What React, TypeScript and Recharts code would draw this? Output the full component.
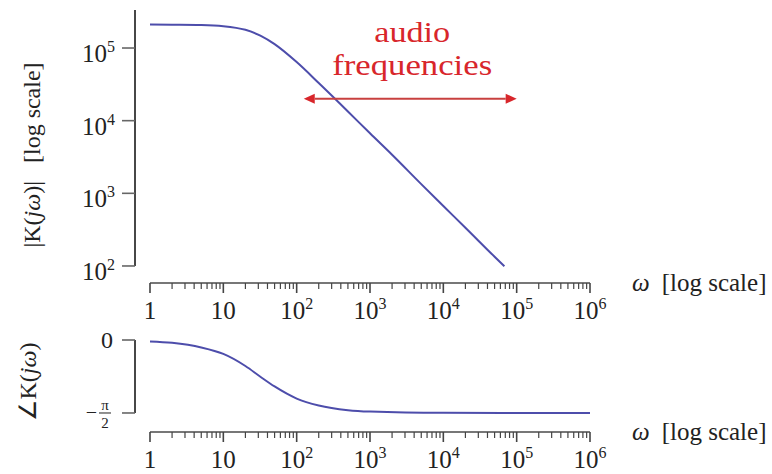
import React from 'react';
import { LineChart, Line, XAxis, YAxis, ReferenceLine, Label } from 'recharts';

// frequency response (rad/s)
const omega = [1, 2, 5, 10, 20, 32, 50, 100, 200, 500, 1000, 2000, 5000, 10000, 20000, 50000, 68000];
const magnitude = [210000, 209000, 207000, 200000, 178000, 148000, 113000, 64000, 33000, 13400, 6700, 3400, 1340, 670, 336, 134, 99];

const phaseOmega = [1, 2, 5, 10, 20, 32, 50, 100, 200, 500, 1000, 10000, 100000, 1000000];
const phase = [-0.03, -0.06, -0.16, -0.3, -0.56, -0.79, -1.0, -1.26, -1.41, -1.51, -1.54, -1.568, -1.57, -1.5708];

const decades = [1, 10, 100, 1000, 10000, 100000, 1000000];
const minorSteps = [2, 3, 4, 5, 6, 7, 8, 9];
const magTicks = [100, 1000, 10000, 100000];
const phaseTicks = [0, -1.5708];

const audioBand = [125, 100000];
const audioLevel = 20000;
const annotation = ['audio', 'frequencies'];

const BLUE = '#4d4dab';
const RED = '#d8262b';
const FONT = '"Liberation Serif", "Times New Roman", serif';

const X_DOMAIN = [0.6245, 1000000];
const MAG_DOMAIN = [58.3, 333600];
const PHASE_DOMAIN = [-1.98, 0];

const xTicks = decades.flatMap((d, i) =>
  i < decades.length - 1 ? [d, ...minorSteps.map(m => m * d)] : [d]
);

const magData = omega.map((w, i) => ({ w, mag: magnitude[i] }));
const phaseData = phaseOmega.map((w, i) => ({ w, ph: phase[i] }));

function XTick({ x, y, payload }: any) {
  const v = payload.value;
  const exp = Math.round(Math.log10(v));
  const major = Math.abs(v - Math.pow(10, exp)) < 1e-6 * v;
  return (
    <g>
      <line x1={x} y1={y} x2={x} y2={y + (major ? 10 : 6)} stroke="#444" strokeWidth={major ? 1.6 : 1.2} />
      {major && (
        <text x={x} y={y + 36} textAnchor="middle" fontSize={25} fill="#222" fontFamily={FONT}>
          {exp === 0 ? '1' : exp === 1 ? '10' : <>10<tspan dy={-10} fontSize={16}>{exp}</tspan></>}
        </text>
      )}
    </g>
  );
}

function MagTick({ x, y, payload }: any) {
  const exp = Math.round(Math.log10(payload.value));
  return (
    <g>
      <line x1={x - 13} y1={y} x2={x} y2={y} stroke="#666" strokeWidth={1.6} />
      <text x={x - 20} y={y + 14} textAnchor="end" fontSize={25} fill="#222" fontFamily={FONT}>
        10<tspan dy={-10} fontSize={16}>{exp}</tspan>
      </text>
    </g>
  );
}

function PhaseTick({ x, y, payload }: any) {
  const zero = payload.value === 0;
  return (
    <g fill="#222" fontFamily={FONT}>
      <line x1={x - 13} y1={y} x2={x} y2={y} stroke="#666" strokeWidth={1.6} />
      {zero ? (
        <text x={x - 22} y={y + 8} textAnchor="end" fontSize={24}>0</text>
      ) : (
        <g>
          <text x={x - 38} y={y + 6} textAnchor="end" fontSize={20}>−</text>
          <text x={x - 30} y={y - 3} textAnchor="middle" fontSize={15}>π</text>
          <line x1={x - 36} y1={y} x2={x - 24} y2={y} stroke="#222" strokeWidth={1} />
          <text x={x - 30} y={y + 15} textAnchor="middle" fontSize={15}>2</text>
        </g>
      )}
    </g>
  );
}

function AudioArrow(props: any) {
  const { x1, y1, x2 } = props;
  const h = 11, w = 5;
  const mid = (x1 + x2) / 2 + 2;
  return (
    <g>
      <line x1={x1 + h} y1={y1} x2={x2 - h} y2={y1} stroke="#c8403f" strokeWidth={2} />
      <polygon points={`${x1},${y1} ${x1 + h},${y1 - w} ${x1 + h},${y1 + w}`} fill={RED} />
      <polygon points={`${x2},${y1} ${x2 - h},${y1 - w} ${x2 - h},${y1 + w}`} fill={RED} />
      <text x={mid} y={y1 - 57} textAnchor="middle" fontSize={30} fill={RED} fontFamily={FONT}
        textLength={76} lengthAdjust="spacingAndGlyphs">{annotation[0]}</text>
      <text x={mid} y={y1 - 24} textAnchor="middle" fontSize={30} fill={RED} fontFamily={FONT}
        textLength={160} lengthAdjust="spacingAndGlyphs">{annotation[1]}</text>
    </g>
  );
}

function OmegaName({ y }: { y: number }) {
  return (
    <text x={632} y={y} fontSize={25} fill="#222" fontFamily={FONT}>
      <tspan fontStyle="italic">ω</tspan>
      <tspan dx={12}>[log scale]</tspan>
    </text>
  );
}

export default function App() {
  return (
    <div style={{ position: 'absolute', left: 0, top: 0, width: 772, height: 474, background: '#fff', fontFamily: FONT }}>
      <div style={{ position: 'absolute', left: 0, top: 0 }}>
        <LineChart width={772} height={326} data={magData} margin={{ top: 10, right: 182, bottom: 0, left: 0 }}>
          <XAxis dataKey="w" type="number" scale="log" domain={X_DOMAIN} allowDataOverflow ticks={xTicks}
            interval={0} axisLine={false} tickLine={false} tickSize={0} tickMargin={0} height={43} tick={XTick}>
            <Label content={() => <OmegaName y={291} />} />
          </XAxis>
          <YAxis type="number" scale="log" domain={MAG_DOMAIN} allowDataOverflow ticks={magTicks}
            interval={0} axisLine={false} tickLine={false} tickSize={0} tickMargin={0} width={135} tick={MagTick}>
            <Label content={() => (
              <text transform="translate(40,155) rotate(-90)" textAnchor="middle" fontSize={24} fill="#222" fontFamily={FONT}>
                |K(<tspan fontStyle="italic">jω</tspan>)|<tspan dx={18}>[log scale]</tspan>
              </text>
            )} />
          </YAxis>
          <ReferenceLine segment={[{ x: X_DOMAIN[0], y: 100 }, { x: X_DOMAIN[0], y: MAG_DOMAIN[1] }]}
            stroke="#333" strokeWidth={1.8} ifOverflow="visible" />
          <ReferenceLine segment={[{ x: 1, y: MAG_DOMAIN[0] }, { x: 1000000, y: MAG_DOMAIN[0] }]}
            stroke="#777" strokeWidth={1.8} ifOverflow="visible" />
          <Line type="monotone" dataKey="mag" stroke={BLUE} strokeWidth={2} dot={false} isAnimationActive={false} />
          <ReferenceLine segment={[{ x: audioBand[0], y: audioLevel }, { x: audioBand[1], y: audioLevel }]}
            ifOverflow="visible" shape={AudioArrow} />
        </LineChart>
      </div>
      <div style={{ position: 'absolute', left: 0, top: 326 }}>
        <LineChart width={772} height={148} data={phaseData} margin={{ top: 14, right: 182, bottom: 0, left: 0 }}>
          <XAxis dataKey="w" type="number" scale="log" domain={X_DOMAIN} allowDataOverflow ticks={xTicks}
            interval={0} axisLine={false} tickLine={false} tickSize={0} tickMargin={0} height={42} tick={XTick}>
            <Label content={() => <OmegaName y={114} />} />
          </XAxis>
          <YAxis type="number" domain={PHASE_DOMAIN} allowDataOverflow ticks={phaseTicks}
            interval={0} axisLine={false} tickLine={false} tickSize={0} tickMargin={0} width={135} tick={PhaseTick}>
            <Label content={() => (
              <text transform="translate(36,56) rotate(-90)" textAnchor="middle" fontSize={24} fill="#222" fontFamily={FONT}>
                ∠K(<tspan fontStyle="italic">jω</tspan>)
              </text>
            )} />
          </YAxis>
          <ReferenceLine segment={[{ x: X_DOMAIN[0], y: 0 }, { x: X_DOMAIN[0], y: phaseTicks[1] }]}
            stroke="#333" strokeWidth={1.8} ifOverflow="visible" />
          <ReferenceLine segment={[{ x: 1, y: PHASE_DOMAIN[0] }, { x: 1000000, y: PHASE_DOMAIN[0] }]}
            stroke="#777" strokeWidth={1.8} ifOverflow="visible" />
          <Line type="monotone" dataKey="ph" stroke={BLUE} strokeWidth={2} dot={false} isAnimationActive={false} />
        </LineChart>
      </div>
    </div>
  );
}
